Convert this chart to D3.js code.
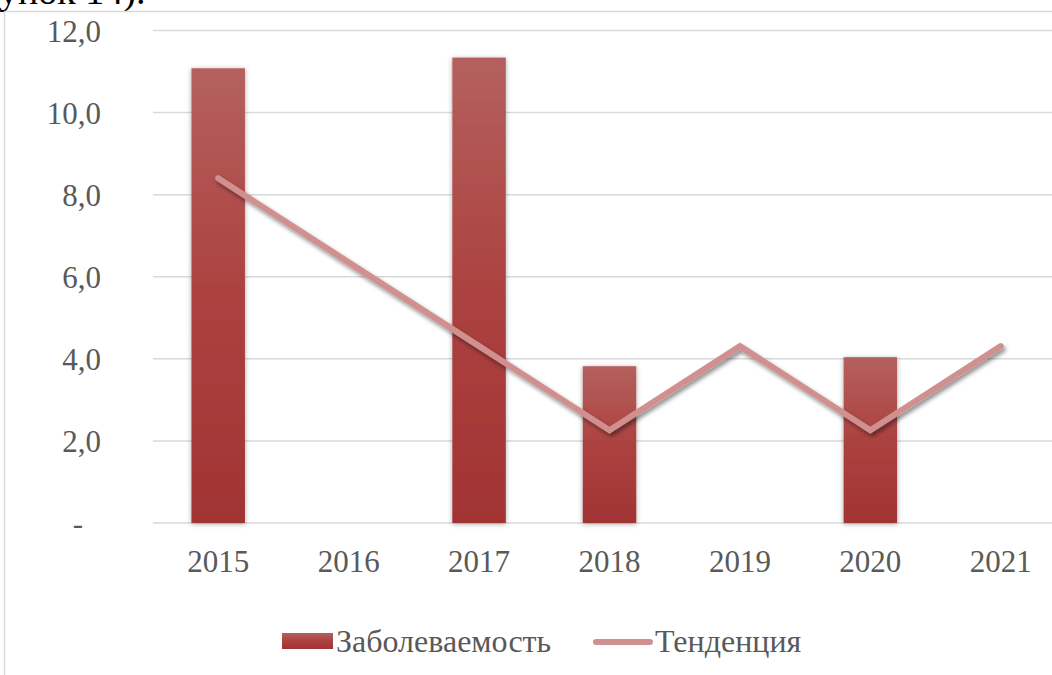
<!DOCTYPE html>
<html><head><meta charset="utf-8">
<script src="https://cdn.jsdelivr.net/npm/d3@7"></script>
<style>html,body{margin:0;padding:0;background:#fff;overflow:hidden}svg{display:block}</style>
</head><body>
<svg id="c" width="1052" height="675"></svg>
<script>
const years = ["2015","2016","2017","2018","2019","2020","2021"];
const incidence = [11.08, null, 11.34, 3.82, null, 4.04, null];
const trend = [8.40, 6.35, 4.31, 2.26, 4.31, 2.26, 4.31];
const yTicks = [0, 2, 4, 6, 8, 10, 12];
const seriesNames = ["Заболеваемость", "Тенденция"];
const captionText = "унок 14).";

const svg = d3.select("#c");
const font = "'Liberation Serif','Times New Roman',serif";
const defs = svg.append("defs");
const g = defs.append("linearGradient").attr("id","barGrad").attr("x1",0).attr("y1",0).attr("x2",0).attr("y2",1);
g.append("stop").attr("offset","0%").attr("stop-color","#b4605e");
g.append("stop").attr("offset","50%").attr("stop-color","#ac4240");
g.append("stop").attr("offset","100%").attr("stop-color","#a13333");
const fb = defs.append("filter").attr("id","barShadow").attr("x","-30%").attr("y","-10%").attr("width","160%").attr("height","120%");
fb.append("feDropShadow").attr("dx",0).attr("dy",1).attr("stdDeviation",2.5).attr("flood-color","#000").attr("flood-opacity",0.35);
const fl = defs.append("filter").attr("id","lineShadow").attr("x","-10%").attr("y","-20%").attr("width","120%").attr("height","140%");
fl.append("feDropShadow").attr("dx",2).attr("dy",3).attr("stdDeviation",2).attr("flood-color","#000").attr("flood-opacity",0.45);

// caption fragment from document (cut at top edge, as in the source)
svg.append("text").attr("x",-1).attr("y",4).attr("font-family",font).attr("font-size",38).attr("fill","#000").text(captionText);

// chart frame
svg.append("line").attr("x1",4.5).attr("x2",4.5).attr("y1",11.5).attr("y2",675).attr("stroke","#d9d9d9").attr("stroke-width",1.5);
svg.append("line").attr("x1",4.5).attr("x2",1052).attr("y1",11.5).attr("y2",11.5).attr("stroke","#d9d9d9").attr("stroke-width",1.5);

const x = d3.scaleBand().domain(years).range([153, 1066]).paddingInner(0.59).paddingOuter(0.295);
const y = d3.scaleLinear().domain([0, 12]).range([523, 30.5]);

// gridlines
svg.append("g").selectAll("line").data(yTicks).join("line")
  .attr("x1",153).attr("x2",1052).attr("y1",d=>y(d)).attr("y2",d=>y(d))
  .attr("stroke","#d9d9d9").attr("stroke-width",1.5);

// y labels
const yAxis = d3.axisLeft(y).tickValues(yTicks).tickSize(0).tickPadding(0)
  .tickFormat(d => d === 0 ? "-" : d3.format(".1f")(d).replace(".", ","));
const ya = svg.append("g").attr("transform","translate(101,0)").call(yAxis);
ya.select(".domain").remove();
ya.selectAll("text").attr("font-family",font).attr("font-size",31).attr("fill","#595959").attr("dy","0.35em")
  .attr("dx", d => d === 0 ? -18 : 0);

// x labels
const xAxis = d3.axisBottom(x).tickSize(0).tickPadding(0);
const xa = svg.append("g").attr("transform","translate(0,572)").call(xAxis);
xa.select(".domain").remove();
xa.selectAll("text").attr("font-family",font).attr("font-size",31).attr("fill","#595959").attr("dy",0).attr("y",0);

// bars
svg.append("g").selectAll("rect").data(years.map((yr,i)=>({yr, v: incidence[i]})).filter(d=>d.v!=null)).join("rect")
  .attr("x",d=>x(d.yr)).attr("width",x.bandwidth())
  .attr("y",d=>y(d.v)).attr("height",d=>y(0)-y(d.v))
  .attr("fill","url(#barGrad)").attr("filter","url(#barShadow)");

// trend line
const line = d3.line().x((d,i)=>x(years[i])+x.bandwidth()/2).y(d=>y(d));
svg.append("path").datum(trend).attr("d",line).attr("fill","none")
  .attr("stroke","#d09090").attr("stroke-width",6).attr("stroke-linecap","round").attr("stroke-linejoin","miter")
  .attr("filter","url(#lineShadow)");

// legend
const lg = svg.append("g");
lg.append("rect").attr("x",282).attr("y",633).attr("width",51).attr("height",16).attr("fill","url(#barGrad)");
lg.append("text").attr("x",336).attr("y",652).attr("font-family",font).attr("font-size",32).attr("fill","#595959").text(seriesNames[0]);
lg.append("line").attr("x1",596).attr("x2",650).attr("y1",642).attr("y2",642).attr("stroke","#d09090").attr("stroke-width",6).attr("stroke-linecap","round");
lg.append("text").attr("x",655).attr("y",652).attr("font-family",font).attr("font-size",32).attr("fill","#595959").text(seriesNames[1]);
</script>
</body></html>
